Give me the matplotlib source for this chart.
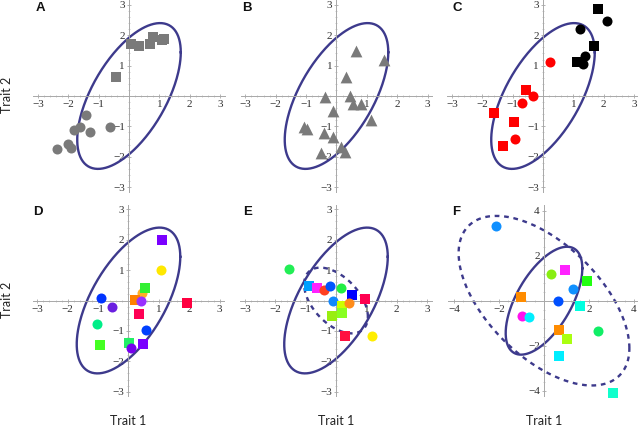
import numpy as np
import matplotlib
matplotlib.use("Agg")
import matplotlib.pyplot as plt
from matplotlib.ticker import FixedLocator, MultipleLocator, FixedFormatter

# ---------------- data ----------------
# Shared G-matrix ellipse (solid) and extra (dashed) ellipses as covariance matrices
G_solid = [[2.90, 2.45], [2.45, 5.75]]
G_dash_E = [[1.10, -0.56], [-0.56, 1.17]]
G_dash_F = [[14.4, -8.0], [-8.0, 14.2]]

# Panel A
A_sq_x = [0.08, 0.32, 0.69, 0.78, 1.07, 1.16, -0.42]
A_sq_y = [1.71, 1.66, 1.71, 1.93, 1.83, 1.87, 0.64]
A_ci_x = [-1.40, -0.64, -1.62, -1.82, -1.27, -2.01, -1.90, -2.37]
A_ci_y = [-0.64, -1.01, -1.03, -1.12, -1.18, -1.59, -1.70, -1.73]

# Panel B
B_tri_x = [0.64, 1.55, 0.31, -0.37, 0.46, 0.53, 0.82, -0.13, 1.13, -1.07, -0.97, -0.42, -0.11, 0.16, 0.27, -0.52]
B_tri_y = [1.48, 1.18, 0.64, -0.04, 0.01, -0.27, -0.27, -0.48, -0.80, -1.01, -1.07, -1.21, -1.34, -1.67, -1.84, -1.87]

# Panel C
C_blk_sq_x = [1.80, 1.67, 1.13]
C_blk_sq_y = [2.87, 1.66, 1.13]
C_blk_ci_x = [2.12, 1.22, 1.39, 1.32]
C_blk_ci_y = [2.48, 2.22, 1.30, 1.06]
C_red_ci_x = [0.23, -0.34, -0.68, -0.92]
C_red_ci_y = [1.12, -0.01, -0.24, -1.41]
C_red_sq_x = [-0.56, -1.61, -0.97, -1.33]
C_red_sq_y = [0.19, -0.56, -0.86, -1.63]

# Panel D
D_x = [1.09, 1.07, 0.45, 0.53, 0.23, 0.40, -0.91, -0.53, 1.91, 0.35, -1.05, 0.59, -0.95, 0.03, 0.08, 0.49]
D_y = [1.98, 1.01, 0.25, 0.42, 0.02, -0.03, 0.08, -0.20, -0.09, -0.44, -0.77, -0.96, -1.46, -1.41, -1.57, -1.43]
D_m = ['s', 'o', 'o', 's', 's', 'o', 'o', 'o', 's', 's', 'o', 'o', 's', 's', 'o', 's']
D_c = ['#7a00ff', '#ffe800', '#ffb028', '#33f033', '#ff8000', '#9a30ff', '#0033ff', '#6a1fe0',
       '#ff0040', '#ff0055', '#00ee88', '#0040ff', '#44ff22', '#22ee66', '#7700ee', '#7a00ff']

# Panel E
E_x = [-1.56, -0.89, -0.61, -0.39, -0.19, 0.17, 0.51, 0.97, -0.11, 0.19, 0.44, -0.14, 0.19, 0.31, 1.20]
E_y = [1.03, 0.47, 0.42, 0.36, 0.47, 0.42, 0.19, 0.06, 0.00, -0.17, -0.09, -0.50, -0.42, -1.17, -1.17]
E_m = ['o', 's', 's', 'o', 'o', 'o', 's', 's', 'o', 's', 'o', 's', 's', 's', 'o']
E_c = ['#22ee55', '#00a0ff', '#ff22ff', '#ff4020', '#0055ff', '#22ee44', '#0000ff', '#ff0050',
       '#1188ff', '#ccff00', '#ff8c1a', '#99ee11', '#88ff22', '#ff1040', '#ffee00']

# Panel F
F_x = [-2.15, 0.93, 0.30, 1.90, 1.28, 0.64, -1.04, 1.59, -0.98, -0.65, 0.65, 2.40, 1.04, 0.67, 3.08]
F_y = [3.33, 1.36, 1.17, 0.88, 0.50, 0.00, 0.15, -0.22, -0.68, -0.72, -1.30, -1.35, -1.72, -2.46, -4.12]
F_m = ['o', 's', 'o', 's', 'o', 'o', 's', 's', 'o', 'o', 's', 'o', 's', 's', 's']
F_c = ['#1090ff', '#ff22ff', '#88ee11', '#22ff11', '#1090ff', '#0050ff', '#ff8c00', '#00ffe0',
       '#ff11ee', '#00eeff', '#ff8c00', '#11ee66', '#aaff11', '#00eeff', '#11ffcc']

ticks3 = [-3, -2, -1, 1, 2, 3]
ticks4 = [-4, -2, 2, 4]
panel_letters = ['A', 'B', 'C', 'D', 'E', 'F']
xlabel = 'Trait 1'
ylabel = 'Trait 2'

# ---------------- layout ----------------
W, H = 638, 426
fig = plt.figure(figsize=(W / 100, H / 100), dpi=100)

ELL_COLOR = '#3d3a8c'
GRAY = '#7a7a7a'
AX_COLOR = '#a8a8a8'


def ellipse_xy(cov, n=300):
    t = np.linspace(0, 2 * np.pi, n)
    L = np.linalg.cholesky(np.array(cov, dtype=float))
    p = L @ np.vstack([np.cos(t), np.sin(t)])
    return p[0], p[1]


def make_ax(cx, cy, lim, unit, ticks, minor):
    half = lim * unit
    ax = fig.add_axes([(cx - half) / W, 1 - (cy + half) / H, 2 * half / W, 2 * half / H])
    ax.set_xlim(-lim, lim)
    ax.set_ylim(-lim, lim)
    ax.set_facecolor('none')
    for s in ['top', 'right']:
        ax.spines[s].set_visible(False)
    for s in ['left', 'bottom']:
        ax.spines[s].set_position(('data', 0))
        ax.spines[s].set_color(AX_COLOR)
        ax.spines[s].set_linewidth(0.7)
    lbls = [str(t).replace('-', '\u2212') for t in ticks]
    ax.xaxis.set_major_locator(FixedLocator(ticks))
    ax.yaxis.set_major_locator(FixedLocator(ticks))
    ax.xaxis.set_major_formatter(FixedFormatter(lbls))
    ax.yaxis.set_major_formatter(FixedFormatter(lbls))
    ax.xaxis.set_minor_locator(MultipleLocator(minor))
    ax.yaxis.set_minor_locator(MultipleLocator(minor))
    ax.tick_params(which='major', direction='inout', length=3, width=0.6, color=AX_COLOR,
                   labelsize=8, labelcolor='#303030', pad=1.5)
    ax.tick_params(which='minor', direction='inout', length=1.5, width=0.4, color=AX_COLOR)
    for lab in ax.get_xticklabels() + ax.get_yticklabels():
        lab.set_fontfamily('Liberation Serif')
    return ax


UNIT = 30.4
LIM = 3.15
centers = [(129, 96), (336.5, 96), (543, 96), (128.5, 300.5), (336, 300.5), (544, 300.7)]
axes = []
for i, (cx, cy) in enumerate(centers):
    if i == 5:
        ax = make_ax(cx, cy, 4.25, 22.5, ticks4, 0.4)
    else:
        ax = make_ax(cx, cy, LIM, UNIT, ticks3, 0.2)
    axes.append(ax)

# ellipses
for ax in axes:
    ex, ey = ellipse_xy(G_solid)
    ax.plot(ex, ey, color=ELL_COLOR, lw=1.7, zorder=2)
ex, ey = ellipse_xy(G_dash_E)
axes[4].plot(ex, ey, color=ELL_COLOR, lw=1.7, ls=(0, (2, 2)), zorder=2)
ex, ey = ellipse_xy(G_dash_F)
axes[5].plot(ex, ey, color=ELL_COLOR, lw=1.7, ls=(0, (2, 2)), zorder=2)

SQ = 44
CI = 52
TRI = 72
kw = dict(linewidths=0, zorder=3, clip_on=False)

# A
axes[0].scatter(A_sq_x, A_sq_y, marker='s', s=SQ, color=GRAY, **kw)
axes[0].scatter(A_ci_x, A_ci_y, marker='o', s=CI, color=GRAY, **kw)
# B
axes[1].scatter(B_tri_x, B_tri_y, marker='^', s=TRI, color=GRAY, **kw)
# C
axes[2].scatter(C_blk_sq_x, C_blk_sq_y, marker='s', s=SQ, color='black', **kw)
axes[2].scatter(C_blk_ci_x, C_blk_ci_y, marker='o', s=CI, color='black', **kw)
axes[2].scatter(C_red_ci_x, C_red_ci_y, marker='o', s=CI, color='#ff0000', **kw)
axes[2].scatter(C_red_sq_x, C_red_sq_y, marker='s', s=SQ, color='#ff0000', **kw)
# D, E, F
for ax, xs, ys, ms, cs in [(axes[3], D_x, D_y, D_m, D_c),
                           (axes[4], E_x, E_y, E_m, E_c),
                           (axes[5], F_x, F_y, F_m, F_c)]:
    for x, y, m, c in zip(xs, ys, ms, cs):
        ax.scatter([x], [y], marker=m, s=SQ if m == 's' else CI, color=c, **kw)

# panel letters
letter_pos = [(40, 8), (247, 8), (457, 8), (38, 212), (248, 212), (456, 212)]
for (px, py), L in zip(letter_pos, panel_letters):
    fig.text(px / W, 1 - py / H, L, fontsize=9.5, fontweight='bold', family='Liberation Sans',
             ha='center', va='center', color='#111111')

# axis titles
for py in [95, 300]:
    fig.text(7 / W, 1 - py / H, ylabel, rotation=90, fontsize=9, family='Lato',
             ha='center', va='center', color='#222222')
for px in [128, 336, 544]:
    fig.text(px / W, 1 - 421 / H, xlabel, fontsize=9, family='Lato',
             ha='center', va='center', color='#222222')

fig.savefig('out.png', dpi=100)
